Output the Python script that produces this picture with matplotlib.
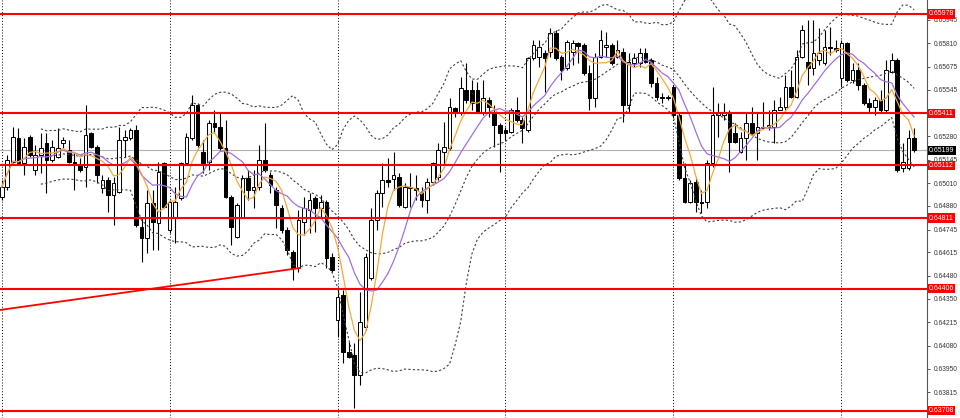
import matplotlib
matplotlib.use('Agg')
import matplotlib.pyplot as plt
import matplotlib.transforms as mtransforms
import numpy as np
import pandas as pd

plt.rcParams['font.family'] = ['Liberation Sans', 'DejaVu Sans']

opens = [
    0.64931, 0.64988, 0.65131, 0.65269, 0.65126, 0.65274, 0.65086, 0.65171, 0.65240, 0.65143,
    0.65160, 0.65240, 0.65200, 0.65131, 0.65114, 0.65103, 0.65297, 0.65217, 0.64983, 0.65028,
    0.64943, 0.64960, 0.65257, 0.65269, 0.65314, 0.64760, 0.64697, 0.64897, 0.64782, 0.65126,
    0.64742, 0.64811, 0.64925, 0.65126, 0.65269, 0.65457, 0.65189, 0.65131, 0.65354, 0.65332,
    0.65211, 0.64931, 0.64702, 0.64817, 0.65040, 0.64971, 0.64988, 0.65143, 0.65057, 0.64971,
    0.64868, 0.64742, 0.64617, 0.64525, 0.64788, 0.64857, 0.64925, 0.64868, 0.64903, 0.64588,
    0.64228, 0.64371, 0.64045, 0.64027, 0.63913, 0.64188, 0.64468, 0.64800, 0.64954, 0.65028,
    0.65034, 0.65046, 0.64874, 0.64983, 0.64983, 0.64960, 0.64914, 0.65017, 0.65046, 0.65189,
    0.65211, 0.65440, 0.65412, 0.65543, 0.65543, 0.65543, 0.65417, 0.65486, 0.65417, 0.65343,
    0.65314, 0.65303, 0.65429, 0.65372, 0.65314, 0.65726, 0.65732, 0.65755, 0.65761, 0.65869,
    0.65732, 0.65669, 0.65761, 0.65812, 0.65801, 0.65640, 0.65497, 0.65732, 0.65789, 0.65801,
    0.65732, 0.65761, 0.65457, 0.65698, 0.65698, 0.65755, 0.65715, 0.65583, 0.65503, 0.65497,
    0.65560, 0.65400, 0.65040, 0.64903, 0.65017, 0.64903, 0.64903, 0.65126, 0.65400, 0.65400,
    0.65417, 0.65297, 0.65189, 0.65269, 0.65354, 0.65297, 0.65326, 0.65332, 0.65332, 0.65429,
    0.65446, 0.65560, 0.65503, 0.65732, 0.65703, 0.65669, 0.65715, 0.65698, 0.65789, 0.65783,
    0.65612, 0.65812, 0.65600, 0.65657, 0.65572, 0.65469, 0.65446, 0.65486, 0.65429, 0.65646,
    0.65715, 0.65097, 0.65097, 0.65269,
]
highs = [
    0.65028, 0.65171, 0.65332, 0.65326, 0.65269, 0.65286, 0.65229, 0.65297, 0.65297, 0.65257,
    0.65326, 0.65274, 0.65257, 0.65183, 0.65154, 0.65457, 0.65303, 0.65229, 0.65057, 0.65046,
    0.65046, 0.65332, 0.65314, 0.65326, 0.65343, 0.64817, 0.64971, 0.64971, 0.65131, 0.65131,
    0.64914, 0.64988, 0.65131, 0.65297, 0.65515, 0.65469, 0.65257, 0.65372, 0.65429, 0.65412,
    0.65372, 0.64943, 0.64897, 0.65057, 0.65086, 0.65086, 0.65229, 0.65354, 0.65074, 0.64988,
    0.64885, 0.64760, 0.64628, 0.64857, 0.64931, 0.64954, 0.64937, 0.64943, 0.64914, 0.64611,
    0.64416, 0.64399, 0.64102, 0.64096, 0.64388, 0.64611, 0.64868, 0.64971, 0.65126, 0.65154,
    0.65189, 0.65068, 0.65011, 0.65068, 0.65057, 0.64988, 0.65040, 0.65131, 0.65240, 0.65360,
    0.65497, 0.65446, 0.65618, 0.65698, 0.65600, 0.65589, 0.65600, 0.65503, 0.65457, 0.65354,
    0.65332, 0.65440, 0.65503, 0.65389, 0.65732, 0.65829, 0.65829, 0.65772, 0.65898, 0.65886,
    0.65743, 0.65829, 0.65829, 0.65818, 0.65812, 0.65686, 0.65755, 0.65886, 0.65875, 0.65812,
    0.65829, 0.65783, 0.65755, 0.65755, 0.65783, 0.65783, 0.65726, 0.65618, 0.65526, 0.65515,
    0.65572, 0.65412, 0.65126, 0.65028, 0.65046, 0.64971, 0.65143, 0.65560, 0.65469, 0.65469,
    0.65429, 0.65354, 0.65303, 0.65412, 0.65446, 0.65412, 0.65475, 0.65429, 0.65486, 0.65503,
    0.65629, 0.65657, 0.65772, 0.65915, 0.65944, 0.65944, 0.65898, 0.65886, 0.65904, 0.65829,
    0.65829, 0.65818, 0.65698, 0.65698, 0.65583, 0.65497, 0.65503, 0.65543, 0.65715, 0.65755,
    0.65726, 0.65240, 0.65314, 0.65326,
]
lows = [
    0.64914, 0.64971, 0.65126, 0.65114, 0.65057, 0.65160, 0.65057, 0.65068, 0.64954, 0.65131,
    0.65154, 0.65211, 0.65126, 0.64971, 0.65074, 0.64988, 0.65211, 0.65011, 0.64954, 0.64845,
    0.64771, 0.64954, 0.65160, 0.65257, 0.64760, 0.64559, 0.64611, 0.64628, 0.64628, 0.64868,
    0.64725, 0.64668, 0.64914, 0.65114, 0.65257, 0.65217, 0.65068, 0.65086, 0.65297, 0.65200,
    0.64925, 0.64657, 0.64697, 0.64811, 0.64914, 0.64868, 0.64971, 0.65074, 0.64954, 0.64754,
    0.64725, 0.64599, 0.64456, 0.64502, 0.64714, 0.64725, 0.64731, 0.64811, 0.64525, 0.64502,
    0.64130, 0.63982, 0.64010, 0.63724, 0.63856, 0.64170, 0.64456, 0.64742, 0.64874, 0.64988,
    0.64971, 0.64874, 0.64868, 0.64874, 0.64914, 0.64874, 0.64840, 0.65000, 0.65028, 0.65103,
    0.65200, 0.65389, 0.65400, 0.65469, 0.65429, 0.65412, 0.65400, 0.65389, 0.65217, 0.65074,
    0.65257, 0.65297, 0.65360, 0.65240, 0.65303, 0.65715, 0.65675, 0.65532, 0.65732, 0.65715,
    0.65600, 0.65657, 0.65686, 0.65698, 0.65629, 0.65429, 0.65446, 0.65726, 0.65732, 0.65686,
    0.65726, 0.65360, 0.65412, 0.65675, 0.65675, 0.65698, 0.65560, 0.65486, 0.65469, 0.65486,
    0.65389, 0.65028, 0.64897, 0.64897, 0.64845, 0.64840, 0.64868, 0.65103, 0.65274, 0.65372,
    0.65074, 0.65240, 0.65183, 0.65143, 0.65286, 0.65143, 0.65320, 0.65314, 0.65240, 0.65429,
    0.65429, 0.65497, 0.65497, 0.65726, 0.65572, 0.65629, 0.65686, 0.65686, 0.65743, 0.65761,
    0.65560, 0.65589, 0.65583, 0.65543, 0.65457, 0.65417, 0.65400, 0.65417, 0.65412, 0.65640,
    0.65074, 0.65074, 0.65086, 0.65189,
]
closes = [
    0.64988, 0.65143, 0.65274, 0.65126, 0.65217, 0.65171, 0.65171, 0.65211, 0.65143, 0.65217,
    0.65211, 0.65257, 0.65131, 0.65114, 0.65086, 0.65286, 0.65217, 0.65057, 0.65028, 0.64943,
    0.65011, 0.65257, 0.65274, 0.65314, 0.64771, 0.64697, 0.64897, 0.64788, 0.65074, 0.64874,
    0.64903, 0.64903, 0.65126, 0.65274, 0.65457, 0.65229, 0.65126, 0.65354, 0.65332, 0.65211,
    0.64931, 0.64760, 0.64885, 0.65040, 0.64971, 0.64988, 0.65143, 0.65086, 0.65000, 0.64885,
    0.64742, 0.64628, 0.64525, 0.64800, 0.64868, 0.64914, 0.64868, 0.64903, 0.64582, 0.64514,
    0.64359, 0.64045, 0.64016, 0.63913, 0.64216, 0.64588, 0.64800, 0.64954, 0.65028, 0.65017,
    0.65057, 0.64885, 0.64988, 0.64988, 0.64971, 0.64914, 0.65017, 0.65126, 0.65200, 0.65217,
    0.65446, 0.65412, 0.65555, 0.65486, 0.65469, 0.65417, 0.65497, 0.65446, 0.65343, 0.65297,
    0.65297, 0.65429, 0.65372, 0.65326, 0.65726, 0.65801, 0.65789, 0.65726, 0.65869, 0.65726,
    0.65657, 0.65818, 0.65812, 0.65795, 0.65640, 0.65497, 0.65732, 0.65829, 0.65801, 0.65698,
    0.65772, 0.65457, 0.65703, 0.65726, 0.65755, 0.65703, 0.65583, 0.65503, 0.65497, 0.65503,
    0.65400, 0.65040, 0.64903, 0.65011, 0.64903, 0.64897, 0.65126, 0.65400, 0.65412, 0.65412,
    0.65246, 0.65246, 0.65269, 0.65354, 0.65297, 0.65332, 0.65332, 0.65343, 0.65429, 0.65446,
    0.65560, 0.65503, 0.65732, 0.65886, 0.65669, 0.65755, 0.65755, 0.65789, 0.65783, 0.65772,
    0.65812, 0.65600, 0.65657, 0.65572, 0.65469, 0.65446, 0.65486, 0.65429, 0.65657, 0.65715,
    0.65086, 0.65131, 0.65269, 0.65200,
]

level_lines = [0.65978, 0.65411, 0.65112, 0.64811, 0.64406, 0.63708]
current_price = 0.65199
trend_x = [-0.3, 53.3]
trend_y = [0.64285, 0.64525]
period_starts = [0, 30, 60, 90, 120, 150]
tick_values = [0.65945, 0.65810, 0.65675, 0.65545, 0.65280, 0.65145, 0.65010,
               0.64880, 0.64745, 0.64615, 0.64480, 0.64350, 0.64215, 0.64080,
               0.63950, 0.63815]
tick_labels = [f"{v:.5f}" for v in tick_values]

fig = plt.figure(figsize=(9.6, 4.18), dpi=100)
fig.patch.set_facecolor('white')
ax = fig.add_axes([0, 0, 927 / 960, 1])
ax.set_facecolor('white')

o = np.array(opens); h = np.array(highs); l = np.array(lows); c = np.array(closes)
n = len(c)
x = np.arange(n)

ax.set_xlim(-0.3, 165.3)
ax.set_ylim(0.63667, 0.66058)

# period separators
for p in period_starts:
    ax.axvline(p, color='black', lw=0.7, ls=(0, (1, 2)), zorder=1)

# current price line
ax.axhline(current_price, color='#b0b0b0', lw=0.8, zorder=1.2)

# candles
up = c >= o
ax.vlines(x, l, h, color='black', lw=0.8, zorder=2)
bottom = np.minimum(o, c)
height = np.maximum(np.abs(c - o), 0.00001)
ax.bar(x[up], height[up], bottom=bottom[up], width=0.66, facecolor='white',
       edgecolor='black', linewidth=0.7, zorder=2.5)
ax.bar(x[~up], height[~up], bottom=bottom[~up], width=0.66, facecolor='black',
       edgecolor='black', linewidth=0.7, zorder=2.5)

# indicators
s = pd.Series(c)
ma_fast = s.rolling(5, min_periods=1).mean()
ma_slow = s.rolling(10, min_periods=1).mean()
mid = s.rolling(20, min_periods=8).mean()
sd = s.rolling(20, min_periods=8).std(ddof=0)
for band in (mid + 2 * sd, mid, mid - 2 * sd):
    ax.plot(x, band, color='#404040', lw=0.8, dashes=(2, 2), zorder=3)
ax.plot(x, ma_slow, color='#a070e0', lw=0.9, zorder=3.2)
ax.plot(x, ma_fast, color='#f2a93b', lw=0.9, zorder=3.3)

# levels and trend line
for v in level_lines:
    ax.axhline(v, color='#ff0000', lw=1.5, zorder=4)
ax.plot(trend_x, trend_y, color='#ff0000', lw=1.3, zorder=4)

# axis styling
ax.yaxis.tick_right()
ax.set_yticks(tick_values)
ax.set_yticklabels(tick_labels)
ax.tick_params(axis='y', length=2.5, width=0.7, colors='#555555', labelsize=4.8,
               labelcolor='#333333', pad=2)
ax.set_xticks([])
for sp in ['left', 'top', 'bottom']:
    ax.spines[sp].set_visible(False)
ax.spines['right'].set_color('#555555')
ax.spines['right'].set_linewidth(0.8)

trans = mtransforms.blended_transform_factory(ax.transAxes, ax.transData) + \
    mtransforms.ScaledTranslation(2 / 100, 0, fig.dpi_scale_trans)
for v in level_lines:
    ax.text(1.0, v, f"{v:.5f}", transform=trans, ha='left', va='center', fontsize=5,
            color='white', zorder=10, clip_on=False,
            bbox=dict(boxstyle='square,pad=0.15', fc='#ff0000', ec='none'))
ax.text(1.0, current_price, f"{current_price:.5f}", transform=trans, ha='left',
        va='center', fontsize=5, color='white', zorder=10, clip_on=False,
        bbox=dict(boxstyle='square,pad=0.15', fc='black', ec='none'))

fig.savefig('out.png', dpi=100, facecolor='white')
